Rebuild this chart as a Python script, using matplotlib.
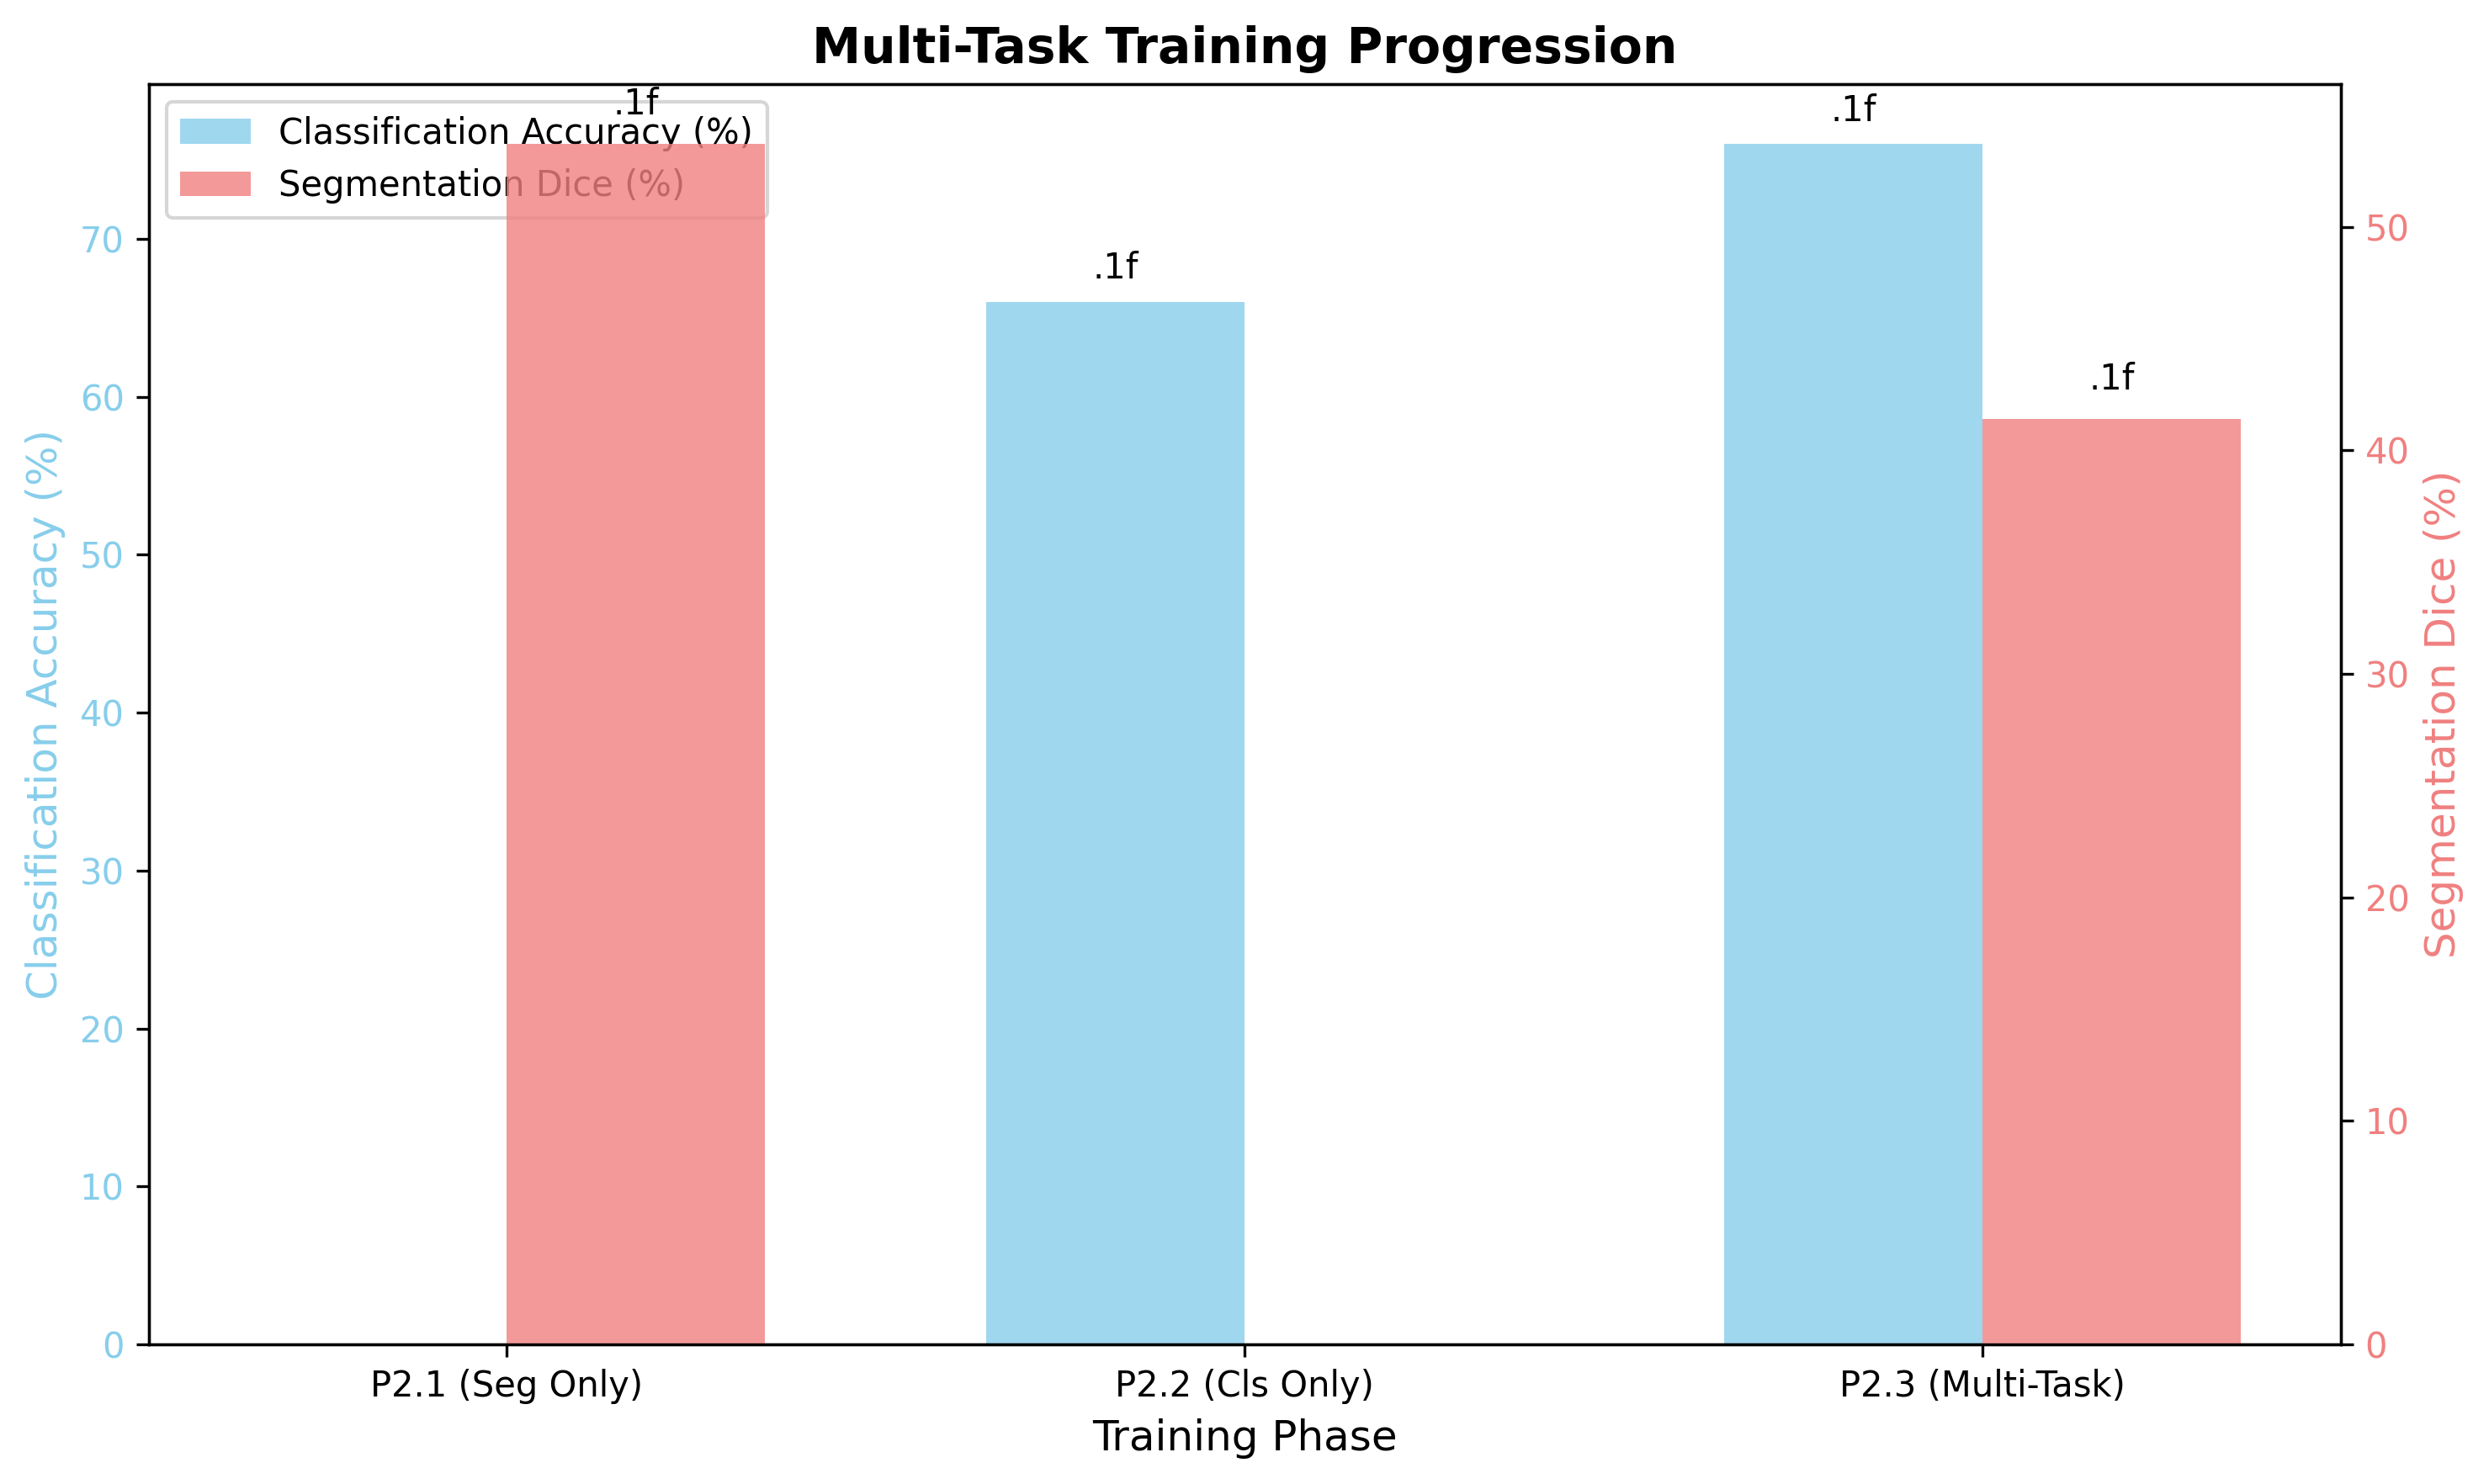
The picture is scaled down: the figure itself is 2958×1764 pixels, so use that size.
import matplotlib
matplotlib.use("Agg")
import matplotlib.pyplot as plt
import numpy as np

phases = ["P2.1 (Seg Only)", "P2.2 (Cls Only)", "P2.3 (Multi-Task)"]
cls_acc = [0.0, 66.0, 76.0]
seg_dice = [53.7, 0.0, 41.4]

x = np.arange(len(phases))
width = 0.35

fig, ax1 = plt.subplots(figsize=(10, 6))
ax2 = ax1.twinx()

b1 = ax1.bar(x - width / 2, cls_acc, width, label="Classification Accuracy (%)",
             color="skyblue", alpha=0.8)
b2 = ax2.bar(x + width / 2, seg_dice, width, label="Segmentation Dice (%)",
             color="lightcoral", alpha=0.8)

for rect, v in zip(b1, cls_acc):
    if v > 0:
        ax1.text(rect.get_x() + rect.get_width() / 2, v + 1, ".1f",
                 ha="center", va="bottom", fontsize=10)
for rect, v in zip(b2, seg_dice):
    if v > 0:
        ax2.text(rect.get_x() + rect.get_width() / 2, v + 1, ".1f",
                 ha="center", va="bottom", fontsize=10)

ax1.set_xlabel("Training Phase", fontsize=12)
ax1.set_ylabel("Classification Accuracy (%)", color="skyblue", fontsize=12)
ax2.set_ylabel("Segmentation Dice (%)", color="lightcoral", fontsize=12)
ax1.tick_params(axis="y", labelcolor="skyblue")
ax2.tick_params(axis="y", labelcolor="lightcoral")
ax1.set_xticks(x)
ax1.set_xticklabels(phases)
ax1.set_ylim(0, max(cls_acc) * 1.05)
ax2.set_ylim(0, max(seg_dice) * 1.05)
ax1.set_title("Multi-Task Training Progression", fontsize=14, fontweight="bold")

h1, l1 = ax1.get_legend_handles_labels()
h2, l2 = ax2.get_legend_handles_labels()
ax1.legend(h1 + h2, l1 + l2, loc="upper left")

plt.tight_layout()
plt.savefig("out.png", dpi=300, bbox_inches="tight")
